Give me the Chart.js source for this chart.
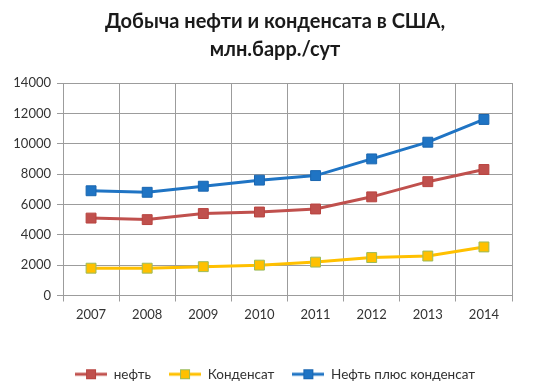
<!DOCTYPE html>
<html>
<head>
<meta charset="utf-8">
<script src="https://cdn.jsdelivr.net/npm/chart.js@4"></script>
<style>
  html, body { margin: 0; padding: 0; background: #fff; }
  #wrap { width: 550px; height: 391px; }
</style>
</head>
<body>
<div id="wrap"><canvas id="chart" width="550" height="391"></canvas></div>
<script>
const years = ["2007", "2008", "2009", "2010", "2011", "2012", "2013", "2014"];
const oil = [5100, 5000, 5400, 5500, 5700, 6500, 7500, 8300];
const condensate = [1800, 1800, 1900, 2000, 2200, 2500, 2600, 3200];
const oilPlusCond = [6900, 6800, 7200, 7600, 7900, 9000, 10100, 11600];
const titleLines = ["Добыча нефти и конденсата в США,", "млн.барр./сут"];

const FONT = "Lato, 'Open Sans', sans-serif";
const GRID = "#9c9c9c";

// legend icon: short line with a square marker in the middle
function legendIcon(line, fill, border){
  const c = document.createElement("canvas");
  c.width = 32; c.height = 12;
  const g = c.getContext("2d");
  g.strokeStyle = line; g.lineWidth = 3;
  g.beginPath(); g.moveTo(0, 6); g.lineTo(32, 6); g.stroke();
  g.fillStyle = fill; g.fillRect(11, 1, 10, 10);
  g.strokeStyle = border; g.lineWidth = 1;
  g.strokeRect(11.5, 1.5, 9, 9);
  return c;
}

const series = [
  { label: "нефть", data: oil, line: "#c0504d", fill: "#c0504d", border: "#b8433f" },
  { label: "Конденсат", data: condensate, line: "#ffc000", fill: "#ffc000", border: "#9bbb59" },
  { label: "Нефть плюс конденсат", data: oilPlusCond, line: "#1f74c4", fill: "#1f74c4", border: "#1a66b0" }
];

new Chart(document.getElementById("chart"), {
  type: "line",
  data: {
    labels: years,
    datasets: series.map(s => ({
      label: s.label,
      data: s.data,
      borderColor: s.line,
      backgroundColor: s.fill,
      borderWidth: 3,
      tension: 0,
      pointStyle: "rect",
      pointRadius: 7,
      pointBackgroundColor: s.fill,
      pointBorderColor: s.border,
      pointBorderWidth: 1,
      legendIcon: legendIcon(s.line, s.fill, s.border)
    }))
  },
  options: {
    animation: false,
    responsive: false,
    layout: { padding: { left: 0, right: 0, top: 0, bottom: 0 } },
    plugins: {
      title: {
        display: true,
        text: titleLines,
        color: "#1a1a1a",
        font: { family: FONT, size: 20, weight: "bold", lineHeight: 1.4 },
        padding: { top: 8, bottom: 19 }
      },
      legend: {
        position: "bottom",
        labels: {
          usePointStyle: true,
          pointStyleWidth: 32,
          boxHeight: 12,
          color: "#333",
          font: { family: FONT, size: 13.5 },
          padding: 18,
          generateLabels(chart){
            return chart.data.datasets.map((d, i) => ({
              text: d.label,
              pointStyle: d.legendIcon,
              fontColor: "#333",
              datasetIndex: i,
              hidden: false,
              lineWidth: 0
            }));
          }
        }
      },
      tooltip: { enabled: false }
    },
    scales: {
      x: {
        offset: true,
        grid: { offset: true, color: GRID, lineWidth: 1, tickLength: 6, drawTicks: true },
        border: { color: GRID },
        ticks: { color: "#333", font: { family: FONT, size: 13 }, padding: 6 },
        afterFit(s){ s.height = 54; }
      },
      y: {
        min: 0,
        max: 14000,
        ticks: {
          stepSize: 2000, color: "#333", font: { family: FONT, size: 13 }, padding: 6,
          callback: v => String(v)
        },
        grid: { color: GRID, lineWidth: 1, tickLength: 6 },
        border: { color: GRID },
        afterFit(s){ s.width = 63; }
      },
      pad: {
        position: "right",
        display: true,
        grid: { display: false },
        border: { display: false },
        ticks: { display: false },
        afterFit(s){ s.width = 38; }
      }
    }
  }
});
</script>
</body>
</html>
